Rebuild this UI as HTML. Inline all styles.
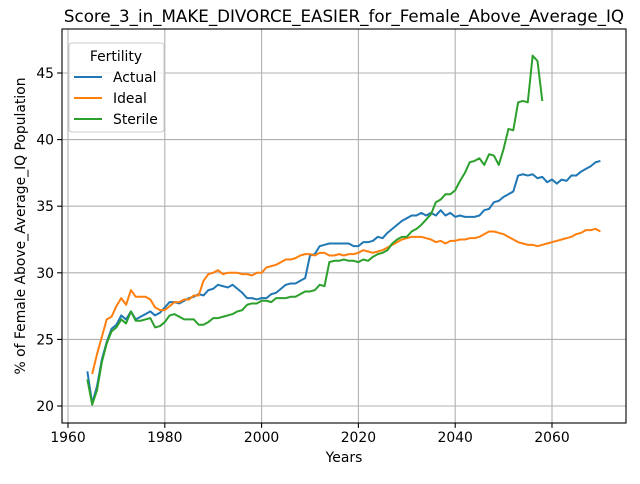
<!DOCTYPE html>
<html><head><meta charset="utf-8"><style>
body{margin:0;background:#fff;font-family:"DejaVu Sans","Liberation Sans",sans-serif}
svg text{font-family:"DejaVu Sans","Liberation Sans",sans-serif}
</style></head><body>
<svg id="chart" width="640" height="480" xmlns="http://www.w3.org/2000/svg">
<rect width="640" height="480" fill="#fff"/>
<g id="grid"></g><g id="series"></g><g id="axes"></g>
</svg>
<script>
const yearsActual=[];for(let y=1964;y<=2070;y++)yearsActual.push(y);
const actualValues=[22.6,20.2,21.5,23.5,24.8,25.8,26.1,26.8,26.5,27.1,26.5,26.7,26.9,27.1,26.8,27.0,27.4,27.8,27.8,27.7,27.9,28.1,28.2,28.4,28.3,28.7,28.8,29.1,29.0,28.9,29.1,28.8,28.5,28.1,28.1,28.0,28.1,28.1,28.4,28.5,28.8,29.1,29.2,29.2,29.4,29.6,31.3,31.4,32.0,32.1,32.2,32.2,32.2,32.2,32.2,32.0,32.0,32.3,32.3,32.4,32.7,32.6,33.0,33.3,33.6,33.9,34.1,34.3,34.3,34.5,34.3,34.5,34.3,34.7,34.3,34.5,34.2,34.3,34.2,34.2,34.2,34.3,34.7,34.8,35.3,35.4,35.7,35.9,36.1,37.3,37.4,37.3,37.4,37.1,37.2,36.8,37.0,36.7,37.0,36.9,37.3,37.3,37.6,37.8,38.0,38.3,38.4];
const yearsIdeal=[];for(let y=1965;y<=2070;y++)yearsIdeal.push(y);
const idealValues=[22.4,23.9,25.2,26.5,26.7,27.5,28.1,27.6,28.7,28.2,28.2,28.2,28.0,27.4,27.2,27.2,27.5,27.8,27.8,28.0,28.0,28.3,28.3,29.4,29.9,30.0,30.2,29.9,30.0,30.0,30.0,29.9,29.9,29.8,30.0,30.0,30.4,30.5,30.6,30.8,31.0,31.0,31.1,31.3,31.4,31.4,31.3,31.5,31.5,31.3,31.3,31.4,31.3,31.4,31.4,31.5,31.7,31.6,31.5,31.6,31.7,31.9,32.1,32.3,32.5,32.6,32.7,32.7,32.7,32.6,32.5,32.3,32.4,32.2,32.4,32.4,32.5,32.5,32.6,32.6,32.7,32.9,33.1,33.1,33.0,32.9,32.7,32.5,32.3,32.2,32.1,32.1,32.0,32.1,32.2,32.3,32.4,32.5,32.6,32.7,32.9,33.0,33.2,33.2,33.3,33.1];
const yearsSterile=[];for(let y=1964;y<=2058;y++)yearsSterile.push(y);
const sterileValues=[22.0,20.1,21.2,23.3,24.7,25.6,25.9,26.5,26.2,27.1,26.4,26.4,26.5,26.6,25.9,26.0,26.3,26.8,26.9,26.7,26.5,26.5,26.5,26.1,26.1,26.3,26.6,26.6,26.7,26.8,26.9,27.1,27.2,27.6,27.7,27.7,27.9,27.9,27.8,28.1,28.1,28.1,28.2,28.2,28.4,28.6,28.6,28.7,29.1,29.0,30.8,30.9,30.9,31.0,30.9,30.9,30.8,31.0,30.9,31.2,31.4,31.5,31.7,32.2,32.5,32.7,32.7,33.1,33.3,33.6,34.0,34.4,35.3,35.5,35.9,35.9,36.2,36.9,37.5,38.3,38.4,38.6,38.1,38.9,38.8,38.1,39.3,40.8,40.7,42.8,42.9,42.8,46.3,45.9,42.9];
const xTicks=[1960,1980,2000,2020,2040,2060];
const yTicks=[20,25,30,35,40,45];
const L=62,R=626,T=29,B=423;
const xs=v=>68+(v-1960)*(552-68)/100;
const ys=v=>406-(v-20)*(406-73)/25;
const NS="http://www.w3.org/2000/svg";
function mk(tag,attrs,parent,txt){const e=document.createElementNS(NS,tag);for(const k in attrs)e.setAttribute(k,attrs[k]);if(txt!==undefined)e.textContent=txt;parent.appendChild(e);return e;}
const grid=document.getElementById('grid'),ser=document.getElementById('series'),ax=document.getElementById('axes');
xTicks.forEach(t=>{const x=xs(t);
 const g=mk('line',{x1:x,x2:x,y1:T,y2:B,stroke:'#b0b0b0','stroke-width':1.1},grid);
 
 mk('line',{x1:x,x2:x,y1:B,y2:B+4.9,stroke:'#000','stroke-width':1.1},ax);
 const l=mk('text',{x:x,y:B+19,'text-anchor':'middle','font-size':13.9},ax,String(t));
 });
yTicks.forEach(t=>{const y=ys(t);
 const g=mk('line',{x1:L,x2:R,y1:y,y2:y,stroke:'#b0b0b0','stroke-width':1.1},grid);
 
 mk('line',{x1:L-4.9,x2:L,y1:y,y2:y,stroke:'#000','stroke-width':1.1},ax);
 const l=mk('text',{x:L-8,y:y+5,'text-anchor':'end','font-size':13.9},ax,String(t));
 });
function line(xsArr,vals,color,name){const d=vals.map((v,i)=>(i?'L':'M')+xs(xsArr[i]).toFixed(2)+','+ys(v).toFixed(2)).join('');
 const p=mk('path',{d:d,fill:'none',stroke:color,'stroke-width':2,'stroke-linejoin':'round'},ser);
 }
line(yearsActual,actualValues,'#1f77b4','actual-line');
line(yearsIdeal,idealValues,'#ff7f0e','ideal-line');
line(yearsSterile,sterileValues,'#2ca02c','sterile-line');
const fr=mk('rect',{x:L,y:T,width:R-L,height:B-T,fill:'none',stroke:'#000','stroke-width':1.1},ax);

const title=mk('text',{x:(L+R)/2,y:T-7,'text-anchor':'middle','font-size':16.7},ax,'Score_3_in_MAKE_DIVORCE_EASIER_for_Female_Above_Average_IQ');

const xt=mk('text',{x:(L+R)/2,y:462,'text-anchor':'middle','font-size':13.9},ax,'Years');

const yt=mk('text',{x:0,y:0,'text-anchor':'middle','font-size':13.9,transform:'translate(25,'+((T+B)/2)+') rotate(-90)'},ax,'% of Female Above_Average_IQ Population');

const lg=mk('g',{},ax);
mk('rect',{x:69,y:43,width:95,height:89,rx:3,fill:'#fff','fill-opacity':0.8,stroke:'#ccc','stroke-width':1.1},lg);
mk('text',{x:116,y:61,'text-anchor':'middle','font-size':13.9},lg,'Fertility');
[['Actual','#1f77b4'],['Ideal','#ff7f0e'],['Sterile','#2ca02c']].forEach((e,i)=>{const y=77+i*21;
 const g=mk('g',{},lg);
 mk('line',{x1:74,x2:102,y1:y,y2:y,stroke:e[1],'stroke-width':2},g);
 mk('text',{x:113,y:y+5,'font-size':13.9},g,e[0]);});
</script>
</body></html>
